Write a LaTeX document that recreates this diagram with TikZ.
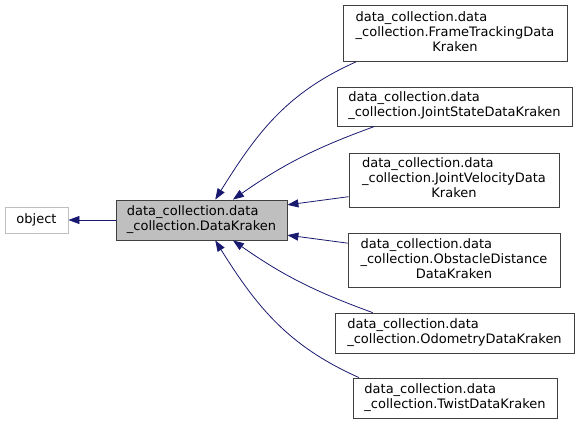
\documentclass[tikz,border=0pt]{standalone}
\usepackage{fontspec}
\setmainfont{DejaVu Sans}
\definecolor{DoxBlue}{HTML}{191970}
\definecolor{DoxGray}{HTML}{BFBFBF}
\usetikzlibrary{arrows.meta, positioning}
\newcommand{\lastln}[1]{\multicolumn{1}{@{}c@{}}{#1}}

\begin{document}
\begin{tikzpicture}[x=1pt, y=-1pt, >={Triangle[length=11pt,width=8pt]},
    cls/.style={draw=black!75, fill=white, line width=0.8pt, inner sep=0pt,
                font=\fontsize{13}{15}\selectfont},
    inh/.style={->, DoxBlue, line width=0.8pt}]
  \useasboundingbox (0,0) rectangle (579,425);
  \node[cls, draw=DoxGray, minimum width=63pt, minimum height=26pt] (obj) at (36.5,220) {object};
  \node[cls, fill=DoxGray, minimum width=171pt, minimum height=40pt] (base) at (201.5,220)
    {\begin{tabular}{@{}l@{}}data\_collection.data\\\_collection.DataKraken\end{tabular}};
  \node[cls, minimum width=224pt, minimum height=56pt] (frame) at (455,33.5)
    {\begin{tabular}{@{}l@{}}data\_collection.data\\\_collection.FrameTrackingData\\\lastln{Kraken}\end{tabular}};
  \node[cls, minimum width=235pt, minimum height=39pt] (jstate) at (454.5,106.5)
    {\begin{tabular}{@{}l@{}}data\_collection.data\\\_collection.JointStateDataKraken\end{tabular}};
  \node[cls, minimum width=210pt, minimum height=54pt] (jvel) at (454,180)
    {\begin{tabular}{@{}l@{}}data\_collection.data\\\_collection.JointVelocityData\\\lastln{Kraken}\end{tabular}};
  \node[cls, minimum width=212pt, minimum height=54pt] (obst) at (454,260)
    {\begin{tabular}{@{}l@{}}data\_collection.data\\\_collection.ObstacleDistance\\\lastln{DataKraken}\end{tabular}};
  \node[cls, minimum width=239pt, minimum height=40pt] (odom) at (454.5,333)
    {\begin{tabular}{@{}l@{}}data\_collection.data\\\_collection.OdometryDataKraken\end{tabular}};
  \node[cls, minimum width=204pt, minimum height=40pt] (twist) at (455,398)
    {\begin{tabular}{@{}l@{}}data\_collection.data\\\_collection.TwistDataKraken\end{tabular}};
  % inheritance edges
  \draw[inh] (base) -- (obj);
  \draw[inh] (frame.196) to[out=204, in=58] (base.56);
  \draw[inh] (jstate.194) to[out=200, in=35] (base.33);
  \draw[inh] (jvel.189) -- (base.10);
  \draw[inh] (obst.171) -- (base.-10);
  \draw[inh] (odom.166) to[out=160, in=-35] (base.-33);
  \draw[inh] (twist.168) to[out=156, in=-58] (base.-56);
\end{tikzpicture}
\end{document}
